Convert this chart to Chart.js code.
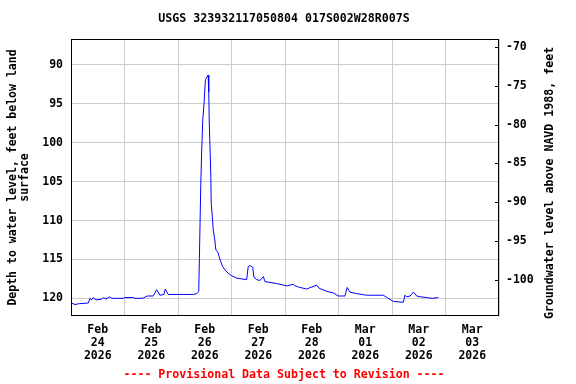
<!DOCTYPE html>
<html>
<head>
<meta charset="utf-8">
<script src="https://cdn.jsdelivr.net/npm/chart.js@4/dist/chart.umd.min.js"></script>
<style>
  html, body { margin: 0; padding: 0; background: #fff; }
  #wrap { width: 576px; height: 384px; }
</style>
</head>
<body>
<div id="wrap"><canvas id="gwChart" width="576" height="384"></canvas></div>
<script>
  // hours since Feb 24 2026 00:00
  const hours = [0.3, 1.8, 3.3, 7.8, 8.5, 9.3, 10, 11.2, 13.8, 14.5, 15.7, 17.2, 18.3, 23.5, 24.2,
    28, 28.7, 31, 32.5, 34.2, 36.9, 38.4, 39.9, 41.7, 42.3, 43.6, 48.1, 51.9, 54.9, 56.4, 57.3,
    57.6, 58.2, 58.6, 59.1, 59.7, 60.3, 60.9, 61.5, 61.8, 62.0, 62.7, 62.9, 63.4, 63.8, 64.5,
    65.0, 65.8, 66.4, 67.2, 68.0, 69.1, 70.6, 72.1, 74.3, 78.8, 79.5, 80.3, 81.5, 82.1, 83.3,
    84.8, 86.3, 87.0, 92.3, 96.8, 99.7, 100.5, 102.7, 105.7, 110.2, 111.3, 114.7, 117.7, 119.9,
    122.9, 123.9, 125.2, 128.2, 132.6, 140.1, 142.3, 144.6, 149.1, 149.8, 150.6, 152.1, 153.6,
    155.1, 156.6, 159.6, 162, 164.8];
  // depth to water level, feet below land surface
  const depth = [120.6, 120.8, 120.7, 120.6, 120.0, 120.2, 119.9, 120.2, 120.1, 119.9, 120.1, 119.8, 120.0, 120.0, 119.9,
    119.9, 120.0, 120.0, 119.95, 119.7, 119.7, 118.9, 119.6, 119.5, 118.8, 119.5, 119.5, 119.5, 119.5, 119.4, 119.1,
    114.85, 105.6, 101.3, 97.1, 94.9, 91.9, 91.6, 91.3, 93.5, 97.1, 103.9, 107.8, 109.5, 111.2, 112.5,
    113.8, 114.0, 114.6, 115.3, 115.9, 116.35, 116.8, 117.1, 117.4, 117.6, 115.9, 115.8, 116.0, 117.3, 117.6,
    117.7, 117.2, 117.85, 118.1, 118.4, 118.2, 118.4, 118.6, 118.8, 118.3, 118.7, 119.1, 119.3, 119.7,
    119.7, 118.6, 119.2, 119.4, 119.6, 119.6, 120.0, 120.4, 120.5, 119.6, 119.8, 119.7, 119.2,
    119.7, 119.8, 119.9, 120.0, 119.9];

  const dayLabels = [
    ["Feb", "24", "2026"], ["Feb", "25", "2026"], ["Feb", "26", "2026"], ["Feb", "27", "2026"],
    ["Feb", "28", "2026"], ["Mar", "01", "2026"], ["Mar", "02", "2026"], ["Mar", "03", "2026"]
  ];
  const depthTicks = [90, 95, 100, 105, 110, 115, 120];
  const elevTicks = [-70, -75, -80, -85, -90, -95, -100];
  const datumOffset = 17.67; // elevation = datumOffset - depth
  const depthMin = 86.67, depthMax = 122.27;

  const FONT = "'DejaVu Sans Mono', 'Liberation Mono', monospace";
  Chart.defaults.font.family = FONT;
  Chart.defaults.font.weight = "bold";
  Chart.defaults.font.size = 11.5;
  Chart.defaults.color = "#000";

  // frame, right-axis inner ticks, titles
  const extras = {
    id: "extras",
    afterDraw(chart) {
      const { ctx, chartArea: a } = chart;
      ctx.save();
      ctx.strokeStyle = "#000";
      ctx.lineWidth = 1;
      ctx.strokeRect(a.left + 0.5, a.top + 0.5, a.right - a.left - 1, a.bottom - a.top - 1);
      const yr = chart.scales.yRight;
      yr.ticks.forEach(function (t) {
        const y = Math.round(yr.getPixelForValue(t.value)) + 0.5;
        ctx.beginPath();
        ctx.moveTo(a.right - 4, y);
        ctx.lineTo(a.right, y);
        ctx.stroke();
      });
      ctx.font = "bold 11.6px " + FONT;
      ctx.textAlign = "center";
      ctx.textBaseline = "middle";
      ctx.fillStyle = "#000";
      ctx.fillText("USGS 323932117050804 017S002W28R007S", 284, 19);
      ctx.fillStyle = "#ff0000";
      ctx.fillText("---- Provisional Data Subject to Revision ----", 284, 375);
      ctx.fillStyle = "#000";
      ctx.translate(550, 183);
      ctx.rotate(-Math.PI / 2);
      ctx.fillText("Groundwater level above NAVD 1988, feet", 0, 0);
      ctx.restore();
    }
  };

  const ctx = document.getElementById("gwChart").getContext("2d");
  const gwChart = new Chart(ctx, {
    type: "line",
    data: {
      datasets: [{
        data: hours.map(function (h, i) { return { x: h, y: depth[i] }; }),
        borderColor: "#0000ff",
        borderWidth: 1,
        pointRadius: 0,
        tension: 0,
        fill: false,
        yAxisID: "y"
      }]
    },
    options: {
      responsive: false,
      animation: false,
      layout: { padding: { top: 39, bottom: 0, left: 0, right: 0 } },
      plugins: { legend: { display: false }, title: { display: false }, tooltip: { enabled: false } },
      scales: {
        x: {
          type: "linear",
          min: 0,
          max: 192,
          afterBuildTicks: function (scale) {
            const t = [];
            for (let v = 0; v <= 192; v += 12) t.push({ value: v });
            scale.ticks = t;
          },
          afterFit: function (scale) { scale.height = 68; },
          grid: {
            color: function (c) { return c.tick && c.tick.value % 24 === 0 ? "#cccccc" : "rgba(0,0,0,0)"; },
            drawTicks: false
          },
          border: { display: false },
          ticks: {
            autoSkip: false,
            maxRotation: 0,
            padding: 8,
            font: { size: 11.5, lineHeight: 1.1 },
            callback: function (v) { return v % 24 === 12 ? dayLabels[(v - 12) / 24] : ""; }
          }
        },
        y: {
          position: "left",
          reverse: true,
          min: depthMin,
          max: depthMax,
          afterBuildTicks: function (scale) { scale.ticks = depthTicks.map(function (v) { return { value: v }; }); },
          afterFit: function (scale) { scale.width = 71; },
          grid: { color: "#cccccc", drawTicks: false },
          border: { display: false },
          ticks: { padding: 8 },
          title: {
            display: true,
            text: ["Depth to water level, feet below land", "surface"],
            font: { size: 11.5, lineHeight: 1.05 },
            padding: { top: 7, bottom: 0 }
          }
        },
        yRight: {
          position: "right",
          min: datumOffset - depthMax,
          max: datumOffset - depthMin,
          afterBuildTicks: function (scale) { scale.ticks = elevTicks.map(function (v) { return { value: v }; }); },
          afterFit: function (scale) { scale.width = 77; },
          grid: { drawOnChartArea: false, drawTicks: false },
          border: { display: false },
          ticks: { padding: 7 }
        }
      }
    },
    plugins: [extras]
  });
</script>
</body>
</html>
